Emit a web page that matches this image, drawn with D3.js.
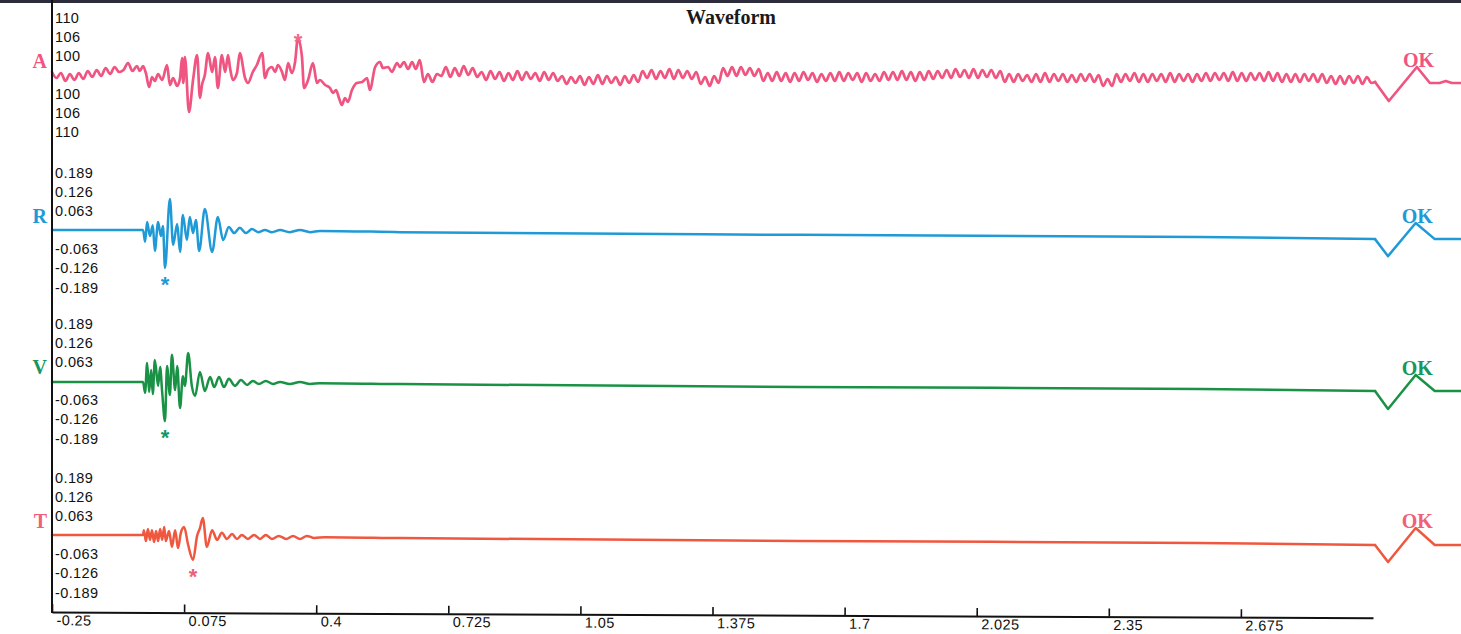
<!DOCTYPE html>
<html>
<head>
<meta charset="utf-8">
<script src="https://cdn.jsdelivr.net/npm/d3@7/dist/d3.min.js"></script>
<style>
  html, body { margin: 0; padding: 0; background: #ffffff; }
  svg { display: block; }
  .tick-label { font-family: "Liberation Sans", Arial, sans-serif; font-size: 14.5px; letter-spacing: 0.4px; fill: #111; }
</style>
</head>
<body>
<svg id="chart" width="1461" height="634"></svg>
<script>
// ---------------- DATA ----------------
const title = "Waveform";
const channels = ["A", "R", "V", "T"];

const xTicks = [-0.25, 0.075, 0.4, 0.725, 1.05, 1.375, 1.7, 2.025, 2.35, 2.675];
const xTickLabels = ["-0.25", "0.075", "0.4", "0.725", "1.05", "1.375", "1.7", "2.025", "2.35", "2.675"];

// velocity channels (R, V, T) amplitude ticks
const velTicks = [0.189, 0.126, 0.063, -0.063, -0.126, -0.189];
const velTickLabels = ["0.189", "0.126", "0.063", "-0.063", "-0.126", "-0.189"];

// air (A) channel ticks (counts) and their printed labels
const airTicks = [57, 38, 19, -19, -38, -57];
const airTickLabels = ["110", "106", "100", "100", "106", "110"];

// A channel: head (time, counts)
const aHead = [[-0.250,3],[-0.239,-3],[-0.228,2],[-0.217,-6],[-0.206,1],[-0.195,-5],[-0.184,2],[-0.173,-4],[-0.162,4],[-0.151,-2],
  [-0.140,5],[-0.129,-1],[-0.118,7],[-0.107,1],[-0.096,8],[-0.085,3],[-0.074,5],[-0.063,12],[-0.052,4],[-0.041,9],
  [-0.034,4],[-0.026,9],[-0.019,2],[-0.011,-12],[-0.004,-2],[0.003,-6],[0.011,1],[0.021,-5],[0.033,10],[0.040,-10],
  [0.048,-3],[0.058,-11],[0.065,-3],[0.070,17],[0.073,-8],[0.077,18],[0.087,-37],[0.097,-5],[0.107,20],[0.114,-23],
  [0.119,-10],[0.126,0],[0.134,22],[0.144,3],[0.151,18],[0.158,-13],[0.168,20],[0.176,3],[0.183,20],[0.188,7],
  [0.195,-5],[0.205,2],[0.212,22],[0.225,-3],[0.232,-8],[0.244,3],[0.254,10],[0.267,22],[0.274,-3],[0.281,5],
  [0.291,8],[0.299,3],[0.306,10],[0.316,3],[0.323,-5],[0.331,12],[0.340,2],[0.348,13],[0.355,37],[0.365,18],
  [0.370,-13],[0.380,-5],[0.392,12],[0.402,-8],[0.409,-5],[0.422,-10],[0.434,-13],[0.441,-18],[0.449,-15],[0.456,-23],
  [0.463,-30],[0.471,-23],[0.478,-27],[0.488,-15],[0.500,-8],[0.513,-7],[0.525,-3],[0.532,-15],[0.545,8],[0.557,13],
  [0.564,7],[0.577,8],[0.586,3],[0.599,12],[0.606,8],[0.616,13],[0.626,6],[0.636,13],[0.645,6],[0.655,15],[0.665,-7]];

// A channel: steady part, sampled every aTailStep seconds from aTailStart
const aTailStart = 0.675;
const aTailStep = 0.011;
const aTailVals = [
  1,-7,1,
  -1,8,-2,7,-1,9,0,7,-2,
  3,-5,4,-4,3,-6,2,-5,4,-5,3,-4,2,-6,3,-5,2,-6,
  -1,-9,-2,-8,-1,-10,-2,-9,0,-9,-1,-8,-2,-10,-1,-8,0,-7,
  4,-3,5,-4,4,-3,6,-4,5,-3,4,-4,3,
  -9,-2,-11,-1,-8,
  7,-1,8,-1,8,0,7,-1,6,
  -6,2,-6,3,-6,2,-7,2,-6,3,-5,2,-7,1,-6,2,-6,3,-6,2,-5,2,-7,2,-6,1,-6,
  3,-5,3,-5,4,-5,3,-6,3,-5,4,-4,4,
  -3,5,-3,6,-2,5,-3,6,-3,5,-2,5,-3,4,
  -7,1,-7,1,-6,0,-7,1,-7,2,-7,1,-6,1,-7,0,-7,1,-6,1,-7,0,
  -11,-4,-11,
  1,-7,1,-6,2,-7,1,-7,1,-6,1,-7,2,-7,1,-6,1,-7,1,
  -6,2,-6,2,-5,2,-6,3,-6,2,-6,2,-5,2,-6,3,-6,2,
  -7,1,-7,1,-7,1,-6,1,-7,1,-8,-1,-9,-1,-9,-1,-8,-1,-9,-2,-8];

// A channel: end (calibration pulse)
const aEnd = [[3.005,-7],[3.039,-26],[3.108,8],[3.140,-8],[3.164,-8],[3.179,-6],[3.194,-8],[3.216,-8]];

// R channel (time, amplitude)
const rData = [[-0.25,0],[-0.026,0],[-0.021,-0.039],[-0.016,0.026],[-0.009,-0.020],[-0.002,0.016],[0.003,-0.069],
  [0.011,0.026],[0.018,-0.020],[0.023,0.013],[0.028,-0.125],[0.040,0.102],[0.048,-0.049],[0.058,0.020],[0.065,-0.072],
  [0.072,0.049],[0.082,-0.033],[0.089,0.043],[0.097,-0.010],[0.104,0.033],[0.112,-0.069],[0.126,0.069],[0.144,-0.072],
  [0.158,0.043],[0.171,-0.033],[0.185,0.010],[0.198,-0.010],[0.212,0.007],[0.227,-0.010],[0.242,0.003],[0.257,-0.007],
  [0.274,0],[0.291,-0.007],[0.311,0],[0.335,-0.007],[0.360,0],[0.385,-0.007],[0.409,-0.003],[0.606,-0.007],
  [1.590,-0.016],[2.574,-0.023],[3.005,-0.030],[3.037,-0.086],[3.105,0.023],[3.152,-0.030],[3.216,-0.030]];

// V channel
const vData = [[-0.25,-0.003],[-0.026,-0.003],[-0.021,-0.039],[-0.016,0.059],[-0.011,-0.036],[-0.006,0.036],[-0.002,-0.043],
  [0.003,0.069],[0.011,-0.016],[0.016,0.046],[0.021,-0.036],[0.028,-0.132],[0.033,0.049],[0.040,-0.046],[0.045,0.086],
  [0.053,-0.030],[0.058,0.049],[0.065,-0.089],[0.072,0.016],[0.077,-0.016],[0.085,0.092],[0.094,-0.016],[0.102,-0.049],
  [0.114,0.030],[0.126,-0.033],[0.139,0.013],[0.149,-0.020],[0.161,0.013],[0.173,-0.020],[0.185,0.007],[0.200,-0.016],
  [0.215,0.003],[0.230,-0.013],[0.244,0],[0.259,-0.010],[0.276,0],[0.294,-0.010],[0.311,-0.003],[0.335,-0.010],
  [0.360,-0.003],[0.385,-0.010],[0.409,-0.007],[0.606,-0.010],[1.590,-0.020],[2.574,-0.026],[3.005,-0.033],
  [3.037,-0.092],[3.105,0.020],[3.152,-0.033],[3.216,-0.033]];

// T channel
const tData = [[-0.25,0],[-0.026,0],[-0.024,0.016],[-0.019,-0.020],[-0.014,0.020],[-0.009,-0.016],[-0.004,0.016],
  [0.001,-0.023],[0.006,0.013],[0.011,-0.020],[0.016,0.020],[0.021,-0.016],[0.026,0.026],[0.030,-0.020],[0.038,0.013],
  [0.045,-0.039],[0.053,0.016],[0.060,-0.043],[0.067,0.007],[0.075,0.026],[0.085,-0.033],[0.097,-0.082],[0.107,-0.003],
  [0.114,0.023],[0.121,0.056],[0.131,-0.039],[0.144,0.016],[0.156,-0.016],[0.168,0.007],[0.180,-0.013],[0.193,0.003],
  [0.205,-0.013],[0.217,0],[0.232,-0.013],[0.247,0],[0.262,-0.013],[0.276,0],[0.291,-0.013],[0.308,-0.003],
  [0.326,-0.013],[0.343,-0.003],[0.360,-0.013],[0.377,-0.003],[0.395,-0.010],[0.422,-0.007],[0.606,-0.010],
  [1.590,-0.020],[2.574,-0.026],[3.005,-0.033],[3.037,-0.089],[3.105,0.023],[3.152,-0.033],[3.216,-0.033]];

// time at which the calibration pulse starts (drawn with straight segments)
const pulseStart = 3.005;

// peak markers (*) : time and amplitude of marked extreme, per channel
const markTimes = [0.355, 0.028, 0.028, 0.097];
const markValues = [37, -0.125, -0.132, -0.082];
const markSides = ["above", "below", "below", "below"];

// status text at end of each trace
const statusText = ["OK", "OK", "OK", "OK"];
const statusTimes = [3.108, 3.105, 3.105, 3.105];
const statusValues = [8, 0.023, 0.020, 0.023];

// ---------------- STYLE / LAYOUT ----------------
const traceColors = ["#ef5580", "#1f9ad6", "#1a9245", "#f0573f"];
const textColors  = ["#ef5580", "#1f9ad6", "#17965e", "#f0607a"];
const markColors  = ["#ef6a8c", "#1f9ad6", "#17965e", "#f0607a"];
const centers = [75, 230, 381, 535];
const halfH = 76;

const svg = d3.select("#chart");
svg.append("rect").attr("width", 1461).attr("height", 634).attr("fill", "#ffffff");

const x = d3.scaleLinear().domain([-0.25, 3.0]).range([52, 1373]);

const yScales = centers.map((c, i) => {
  const dom = i === 0 ? [-76, 76] : [-0.25, 0.25];
  return d3.scaleLinear().domain(dom).range([c + halfH, c - halfH]);
});

// assemble A trace
const aData = aHead.concat(aTailVals.map((v, i) => [aTailStart + i * aTailStep, v]), aEnd);
const series = [aData, rData, vData, tData];

// top frame line
svg.append("line").attr("x1", 0).attr("x2", 1461).attr("y1", 1.5).attr("y2", 1.5)
  .attr("stroke", "#2b2b3b").attr("stroke-width", 3);

// title
svg.append("text").attr("x", 731).attr("y", 24).attr("text-anchor", "middle")
  .attr("font-family", "'Liberation Serif', 'Times New Roman', serif").attr("font-weight", "bold")
  .attr("font-size", 20).attr("fill", "#1a1a1a").text(title);

// traces
series.forEach((data, i) => {
  const y = yScales[i];
  const smooth = d3.line().x(d => x(d[0])).y(d => y(d[1])).curve(d3.curveMonotoneX);
  const straight = d3.line().x(d => x(d[0])).y(d => y(d[1]));
  const sw = i === 0 ? 2.7 : 2.5;
  svg.append("path").datum(data.filter(d => d[0] <= pulseStart)).attr("d", smooth).attr("fill", "none")
    .attr("stroke", traceColors[i]).attr("stroke-width", sw)
    .attr("stroke-linejoin", "round").attr("stroke-linecap", "round");
  svg.append("path").datum(data.filter(d => d[0] >= pulseStart)).attr("d", straight).attr("fill", "none")
    .attr("stroke", traceColors[i]).attr("stroke-width", sw)
    .attr("stroke-linejoin", "round").attr("stroke-linecap", "round");
});

// y tick labels per panel
channels.forEach((ch, i) => {
  const y = yScales[i];
  const tv = i === 0 ? airTicks : velTicks;
  const tl = i === 0 ? airTickLabels : velTickLabels;
  const ax = d3.axisRight(y).tickValues(tv).tickFormat((d, k) => tl[k]).tickSize(0).tickPadding(3);
  const g = svg.append("g").attr("transform", "translate(52,0)").call(ax);
  g.select(".domain").remove();
  g.selectAll("text").attr("class", "tick-label").attr("fill", "#111");
  // channel letter
  svg.append("text").attr("x", 47).attr("y", y(0) - 7).attr("text-anchor", "end")
    .attr("font-family", "'Liberation Serif', 'Times New Roman', serif").attr("font-weight", "bold")
    .attr("font-size", 20).attr("fill", textColors[i]).text(ch);
  // marker star
  const my = y(markValues[i]);
  svg.append("text").attr("x", x(markTimes[i])).attr("y", markSides[i] === "above" ? my + 11 : my + 24)
    .attr("text-anchor", "middle").attr("font-family", "'Liberation Sans', Arial, sans-serif")
    .attr("font-weight", "bold").attr("font-size", 22).attr("fill", markColors[i]).text("*");
  // status
  svg.append("text").attr("x", x(statusTimes[i]) - 14).attr("y", y(statusValues[i]))
    .attr("font-family", "'Liberation Serif', 'Times New Roman', serif").attr("font-weight", "bold")
    .attr("font-size", 20).attr("fill", textColors[i]).text(statusText[i]);
});

// left axis line
svg.append("line").attr("x1", 52).attr("x2", 52).attr("y1", 0).attr("y2", 613)
  .attr("stroke", "#111").attr("stroke-width", 2);

// bottom axis (slightly tilted, as scanned)
const xAxis = d3.axisBottom(x).tickValues(xTicks).tickFormat((d, k) => xTickLabels[k])
  .tickSize(-8).tickSizeOuter(0);
const gx = svg.append("g").attr("transform", "translate(0,612) rotate(0.25,52,0)").call(xAxis);
gx.select(".domain").attr("stroke", "#111").attr("stroke-width", 2);
gx.selectAll(".tick line").attr("stroke", "#111").attr("stroke-width", 1.6);
gx.selectAll(".tick text").attr("class", "tick-label").attr("text-anchor", "start")
  .attr("x", 4).attr("y", 3).attr("dy", "0.71em").attr("fill", "#111");
</script>
</body>
</html>
